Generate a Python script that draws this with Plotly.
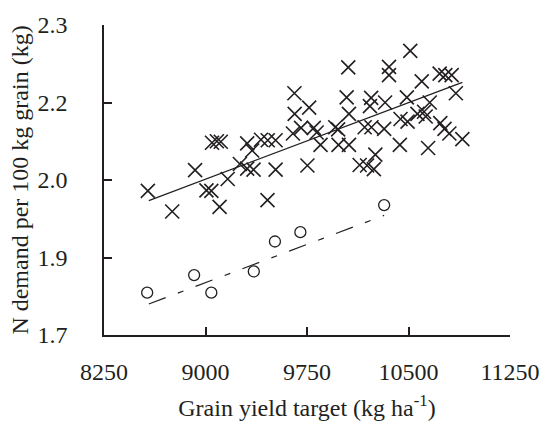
import plotly.graph_objects as go

# Crosses: N demand at individual yield targets
cross_x = [8574, 8754, 8923, 9007, 9043, 9104, 9048, 9084, 9113, 9164,
           9254, 9308, 9355, 9458, 9518, 9308, 9345, 9410, 9460, 9518,
           9646, 9706, 9657, 9659, 9766, 9753, 9800, 9821, 9850, 9959,
           9980, 9983, 10060, 10055, 10043, 10060, 10139, 10194, 10244, 10176,
           10226, 10320, 10224, 10215, 10327, 10356, 10356, 10255, 10436, 10441,
           10493, 10488, 10513, 10566, 10615, 10627, 10657, 10598, 10645, 10730,
           10772, 10819, 10850, 10735, 10766, 10802, 10898]
cross_y = [1.979, 1.939, 2.019, 1.980, 1.979, 1.948, 2.072, 2.075, 2.074, 2.002,
           2.031, 2.022, 2.020, 1.961, 2.020, 2.071, 2.057, 2.078, 2.077, 2.077,
           2.090, 2.101, 2.168, 2.128, 2.140, 2.028, 2.101, 2.092, 2.068, 2.102,
           2.098, 2.068, 2.068, 2.218, 2.160, 2.128, 2.029, 2.028, 2.021, 2.102,
           2.102, 2.099, 2.159, 2.143, 2.150, 2.219, 2.203, 2.049, 2.068, 2.118,
           2.113, 2.160, 2.250, 2.128, 2.132, 2.123, 2.150, 2.191, 2.062, 2.206,
           2.203, 2.203, 2.168, 2.110, 2.099, 2.090, 2.079]

# Circles
circle_x = [8569, 8916, 9043, 9357, 9513, 9701, 10320]
circle_y = [1.782, 1.816, 1.782, 1.823, 1.881, 1.899, 1.9515]

# Trend lines (end points)
solid_x = [8581, 10898]
solid_y = [1.960, 2.189]
dash_x = [8581, 10320]
dash_y = [1.760, 1.9315]

x_ticks = [8250, 9000, 9750, 10500, 11250]
y_ticks = [1.7, 1.85, 2.0, 2.15, 2.3]
y_ticktext = ["1.7", "1.9", "2.0", "2.2", "2.3"]

ink = "#231f20"
font = dict(family="Liberation Serif, Times New Roman, serif", size=24, color=ink)

fig = go.Figure()
fig.add_trace(go.Scatter(x=cross_x, y=cross_y, mode="markers",
                         marker=dict(symbol="x-thin-open", size=14, color=ink,
                                     line=dict(width=1.6, color=ink)),
                         showlegend=False))
fig.add_trace(go.Scatter(x=circle_x, y=circle_y, mode="markers",
                         marker=dict(symbol="circle-open", size=11, color=ink,
                                     line=dict(width=1.3, color=ink)),
                         showlegend=False))
fig.add_trace(go.Scatter(x=solid_x, y=solid_y, mode="lines",
                         line=dict(color=ink, width=1.2), showlegend=False))
fig.add_trace(go.Scatter(x=dash_x, y=dash_y, mode="lines",
                         line=dict(color=ink, width=1.2, dash="18px,13px,6px,13px"),
                         showlegend=False))

fig.update_layout(
    width=552, height=433,
    margin=dict(l=103.5, r=33, t=17, b=98),
    paper_bgcolor="white", plot_bgcolor="white",
    font=font,
    xaxis=dict(range=[8250, 11250], tickvals=x_ticks,
               ticktext=[str(v) for v in x_ticks],
               ticks="inside", ticklen=8, tickwidth=1.5, tickcolor=ink,
               showline=True, linecolor=ink, linewidth=1.5,
               showgrid=False, zeroline=False, ticklabelstandoff=14,
               title=dict(text="Grain yield target (kg ha<sup>-1</sup>)",
                          font=font, standoff=16)),
    yaxis=dict(range=[1.7, 2.3], tickvals=y_ticks, ticktext=y_ticktext,
               ticks="inside", ticklen=8, tickwidth=1.5, tickcolor=ink,
               showline=True, linecolor=ink, linewidth=1.5,
               showgrid=False, zeroline=False, ticklabelstandoff=30,
               title=dict(text="N demand per 100 kg grain (kg)",
                          font=font, standoff=2)),
)

fig.write_html("out.html", config={"displayModeBar": False},
               post_script="document.body.style.margin='0';")
